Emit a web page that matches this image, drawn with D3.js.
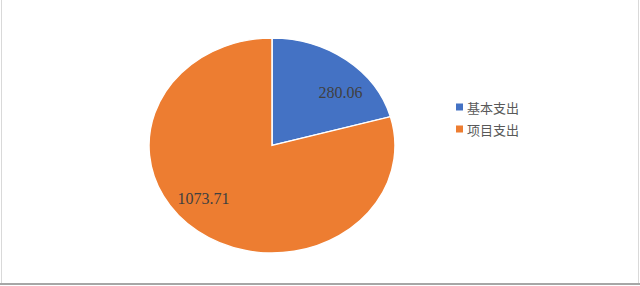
<!DOCTYPE html>
<html>
<head>
<meta charset="utf-8">
<script src="https://cdn.jsdelivr.net/npm/d3@7"></script>
<style>
  body { margin: 0; background: #fff; }
  svg { display: block; }
</style>
</head>
<body>
<div id="chart"></div>
<script>
// chart size
var w = 640;
var h = 286;

// data
var categories = ["基本支出", "项目支出"];
var values = [280.06, 1073.71];
var colors = ["#4472C4", "#ED7D31"];

var cx = 272, cy = 145.5;
var rx = 123, ry = 107.5;

var svg = d3.select("#chart")
            .append("svg")
            .attr("width", w)
            .attr("height", h);

// frame
svg.append("rect")
   .attr("x", 1.5).attr("y", -2)
   .attr("width", w - 3).attr("height", h - 0.5)
   .attr("fill", "none")
   .attr("stroke", "#d9d9d9")
   .attr("stroke-width", 1);
svg.append("line")
   .attr("x1", 0).attr("x2", w)
   .attr("y1", 284).attr("y2", 284)
   .attr("stroke", "#a6a6a6")
   .attr("stroke-width", 2);

var pie = d3.pie().sort(null).value(function(d) { return d; });
var arcs = pie(values);

var arc = d3.arc().innerRadius(0).outerRadius(rx);

// pie drawn as circle then squashed to ellipse
var g = svg.append("g")
           .attr("transform", "translate(" + cx + "," + cy + ") scale(1," + (ry / rx) + ")");

g.selectAll("path")
 .data(arcs)
 .enter()
 .append("path")
 .attr("d", arc)
 .attr("fill", function(d, i) { return colors[i]; })
 .attr("stroke", "#fff")
 .attr("stroke-width", 1.5);

// labels
var labelArc = d3.arc().innerRadius(rx * 0.92).outerRadius(rx * 0.92);
svg.selectAll("text.lbl")
   .data(arcs)
   .enter()
   .append("text")
   .attr("class", "lbl")
   .attr("x", function(d) { return cx + labelArc.centroid(d)[0]; })
   .attr("y", function(d) { return cy + labelArc.centroid(d)[1] * 0.59; })
   .attr("text-anchor", "middle")
   .attr("dominant-baseline", "central")
   .attr("font-family", "'Liberation Serif', 'Times New Roman', serif")
   .attr("font-size", "16px")
   .attr("fill", "#404040")
   .text(function(d) { return d.data.toFixed(2); });

// legend
var legend = svg.selectAll("g.legend")
                .data(categories)
                .enter()
                .append("g")
                .attr("class", "legend")
                .attr("transform", function(d, i) { return "translate(456," + (107 + i * 22) + ")"; });

legend.append("rect")
      .attr("x", 0).attr("y", -3.5)
      .attr("width", 7).attr("height", 7)
      .attr("fill", function(d, i) { return colors[i]; });

legend.append("text")
      .attr("x", 11)
      .attr("y", 0)
      .attr("dominant-baseline", "central")
      .attr("font-family", "'Noto Sans CJK SC', sans-serif")
      .attr("font-size", "13px")
      .attr("fill", "#595959")
      .text(function(d) { return d; });
</script>
</body>
</html>
